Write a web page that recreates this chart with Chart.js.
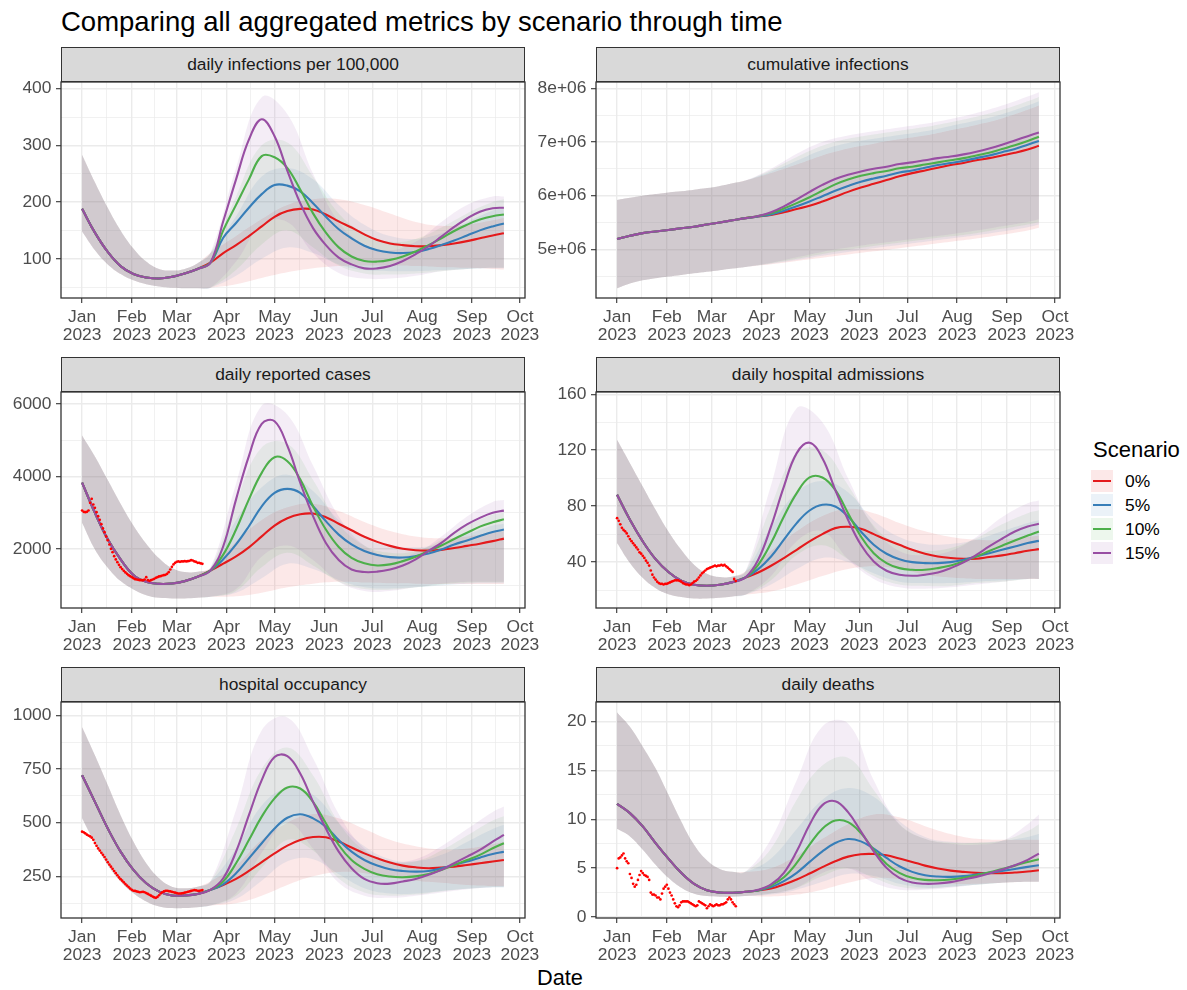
<!DOCTYPE html>
<html>
<head>
<meta charset="utf-8">
<title>Comparing all aggregated metrics by scenario through time</title>
<script src="https://cdn.jsdelivr.net/npm/chart.js"></script>
<style>
  html, body { margin: 0; padding: 0; background: #ffffff; }
  body { width: 1187px; height: 990px; position: relative; overflow: hidden;
         font-family: 'Liberation Sans', Arial, sans-serif; }
  .txt { position: absolute; white-space: nowrap; }
  .strip { position: absolute; box-sizing: border-box; background: #D9D9D9;
           border: 1.1px solid #333333; display: flex; align-items: center;
           justify-content: center; font-size: 17.4px; color: #1A1A1A; }
  canvas { position: absolute; }
  .key { position: absolute; width: 22px; height: 22px; }
  .key i { position: absolute; left: 2px; right: 2px; top: 10px; height: 2.2px; }
  .klab { position: absolute; font-size: 17.4px; color: #000; line-height: 22px; }
</style>
</head>
<body>
<div class="txt" style="left:61px;top:8px;font-size:27.5px;line-height:27.5px;color:#000;">Comparing all aggregated metrics by scenario through time</div>
<div class="txt" style="left:460px;width:200px;text-align:center;top:967px;font-size:21.75px;line-height:21.75px;color:#000;">Date</div>
<div class="txt" style="left:1093px;top:439px;font-size:22px;line-height:22px;color:#000;">Scenario</div>
<div id="legend"></div>

<script>
// ---- time axis (days since 1 Jan 2023) ----
const LINE_DAYS = [0,8,16,24,32,40,48,56,64,72,80,88,96,104,112,120,128,136,144,152,160,168,176,184,192,200,208,216,224,232,240,248,256,263];
const BAND_DAYS = [0,8,16,24,32,40,48,56,64,72,80,96,112,128,144,160,176,192,208,224,240,256,263];
const MONTH_DAYS = [0,31,59,90,120,151,181,212,243,273];
const MONTH_MINOR = [15.5,45,74.5,105,135.5,166,196.5,227.5,258];
const MONTH_LABELS = ['Jan','Feb','Mar','Apr','May','Jun','Jul','Aug','Sep','Oct'];
const YEAR_LABEL = '2023';

const SCENARIOS = ['0%','5%','10%','15%'];
const SCENARIO_RGB = [[228,26,28],[55,126,184],[77,175,74],[152,78,163]];

// ---- daily infections per 100,000 ----
const infMedShared = [188,146,112,87,73,67,65,68,74,82,93];
const infMed0  = [110,124,140,157,174,184,188,187,178,166,155,143,133,127,124,122,122,124,127,131,136,141,145];
const infMed5  = [137,163,190,214,230,229,219,198,174,152,136,123,115,111,110,112,117,124,132,141,150,157,162];
const infMed10 = [150,195,240,281,279,260,222,180,146,120,104,96,95,98,104,113,124,136,149,160,169,175,178];
const infMed15 = [166,240,310,346,316,255,198,154,124,102,90,83,83,87,96,108,122,139,156,171,183,189,190];
const infLoShared = [148,115,90,73,62,55,51,49,48,48,49];
const infHiShared = [283,235,190,150,118,95,82,79,82,92,110];
const infLo0  = [55,66,76,83,87,88,88,87,85,84,82,81];
const infHi0  = [140,170,195,205,205,195,180,165,158,160,168,172];
const infLo5  = [70,100,120,110,90,80,78,78,80,82,83,83];
const infHi5  = [175,245,260,240,195,160,140,135,145,165,185,190];
const infLo10 = [80,125,150,120,88,74,72,74,78,82,84,84];
const infHi10 = [210,300,305,245,180,145,130,135,155,180,200,205];
const infLo15 = [95,160,165,110,75,65,65,70,78,82,84,84];
const infHi15 = [260,385,355,250,165,125,115,130,165,195,210,210];

// ---- cumulative infections ----
const cumMedShared = [5.19e6,5.25e6,5.30e6,5.33e6,5.36e6,5.39e6,5.42e6,5.46e6,5.50e6,5.54e6,5.58e6];
const cumMed0  = [5.61e6,5.64e6,5.69e6,5.75e6,5.81e6,5.89e6,5.98e6,6.07e6,6.15e6,6.22e6,6.29e6,6.36e6,6.42e6,6.47e6,6.52e6,6.57e6,6.61e6,6.66e6,6.70e6,6.75e6,6.80e6,6.86e6,6.93e6];
const cumMed5  = [5.61e6,5.65e6,5.72e6,5.80e6,5.89e6,5.99e6,6.09e6,6.18e6,6.26e6,6.32e6,6.37e6,6.43e6,6.47e6,6.52e6,6.57e6,6.61e6,6.65e6,6.70e6,6.75e6,6.81e6,6.87e6,6.95e6,7.02e6];
const cumMed10 = [5.62e6,5.67e6,5.76e6,5.86e6,5.97e6,6.09e6,6.21e6,6.30e6,6.37e6,6.42e6,6.46e6,6.51e6,6.54e6,6.58e6,6.62e6,6.66e6,6.70e6,6.75e6,6.80e6,6.87e6,6.94e6,7.02e6,7.10e6];
const cumMed15 = [5.62e6,5.69e6,5.80e6,5.93e6,6.07e6,6.20e6,6.31e6,6.39e6,6.45e6,6.50e6,6.54e6,6.59e6,6.62e6,6.66e6,6.70e6,6.73e6,6.77e6,6.82e6,6.88e6,6.95e6,7.03e6,7.11e6,7.18e6];
const cumLoShared = [4.27e6,4.36e6,4.42e6,4.46e6,4.49e6,4.52e6,4.55e6,4.58e6,4.61e6,4.64e6,4.67e6];
const cumHiShared = [5.92e6,5.96e6,6.00e6,6.03e6,6.06e6,6.08e6,6.11e6,6.14e6,6.18e6,6.23e6,6.28e6];
const cumLo0  = [4.72e6,4.78e6,4.84e6,4.90e6,4.96e6,5.02e6,5.08e6,5.14e6,5.20e6,5.27e6,5.35e6,5.40e6];
const cumHi0  = [6.42e6,6.58e6,6.75e6,6.88e6,6.97e6,7.05e6,7.12e6,7.22e6,7.32e6,7.44e6,7.60e6,7.68e6];
const cumLo5  = [4.73e6,4.80e6,4.88e6,4.95e6,5.02e6,5.08e6,5.14e6,5.20e6,5.26e6,5.33e6,5.41e6,5.46e6];
const cumHi5  = [6.45e6,6.65e6,6.85e6,6.98e6,7.06e6,7.13e6,7.20e6,7.30e6,7.40e6,7.52e6,7.68e6,7.76e6];
const cumLo10 = [4.74e6,4.82e6,4.91e6,4.99e6,5.06e6,5.12e6,5.18e6,5.24e6,5.30e6,5.38e6,5.46e6,5.51e6];
const cumHi10 = [6.48e6,6.72e6,6.93e6,7.06e6,7.14e6,7.21e6,7.28e6,7.37e6,7.47e6,7.60e6,7.76e6,7.84e6];
const cumLo15 = [4.75e6,4.85e6,4.95e6,5.03e6,5.10e6,5.16e6,5.22e6,5.28e6,5.35e6,5.43e6,5.51e6,5.56e6];
const cumHi15 = [6.50e6,6.78e6,7.00e6,7.12e6,7.20e6,7.27e6,7.34e6,7.43e6,7.54e6,7.68e6,7.85e6,7.93e6];

// ---- daily reported cases ----
const casesMedShared = [3830,3000,2270,1720,1290,1100,1045,1055,1120,1240,1410];
const casesMed0  = [1600,1800,2050,2350,2650,2850,2960,2980,2880,2700,2520,2340,2200,2090,2010,1970,1960,1980,2030,2090,2150,2220,2290];
const casesMed5  = [1720,2130,2630,3180,3550,3660,3550,3180,2770,2400,2130,1950,1840,1780,1770,1810,1880,1990,2130,2240,2360,2470,2540];
const casesMed10 = [1850,2540,3370,4100,4530,4420,3920,3180,2540,2060,1760,1610,1550,1580,1670,1790,1950,2100,2280,2450,2620,2740,2820];
const casesMed15 = [2080,3370,4560,5450,5520,4840,3830,2910,2170,1700,1440,1370,1380,1440,1550,1720,1950,2170,2450,2680,2860,3000,3060];
const casesLoShared = [2725,1990,1490,1120,890,734,661,642,642,661,688];
const casesHiShared = [5130,4550,3900,3250,2650,2150,1750,1480,1370,1380,1480];
const casesLo0  = [700,800,950,1050,1100,1080,1060,1050,1040,1040,1040,1040];
const casesHi0  = [2200,2800,3150,3250,3050,2750,2500,2350,2300,2350,2450,2500];
const casesLo5  = [800,1200,1600,1450,1150,950,920,950,1000,1050,1060,1060];
const casesHi5  = [2800,3700,4050,3600,2800,2300,2100,2050,2150,2400,2650,2700];
const casesLo10 = [850,1500,1900,1550,1100,900,880,950,1030,1080,1090,1090];
const casesHi10 = [3300,4800,4900,3900,2700,2100,1900,1950,2250,2650,2950,3000];
const casesLo15 = [900,1800,2100,1700,1100,850,850,950,1050,1100,1100,1100];
const casesHi15 = [3800,5950,5700,4300,2900,2100,1800,1900,2350,2900,3300,3350];
const casesObserved = [3064,3028,3018,3028,3064,3275,3385,3229,3138,3018,2908,2807,2688,2569,2468,2349,2248,2128,2009,1917,
  1807,1716,1642,1569,1505,1450,1404,1358,1321,1284,1257,1229,1202,1174,1165,1156,1147,1147,1147,1165,
  1229,1147,1128,1147,1165,1183,1211,1229,1248,1257,1275,1284,1294,1321,1367,1440,1514,1578,1624,1651,
  1661,1651,1661,1661,1670,1661,1670,1679,1697,1688,1661,1651,1624,1624,1606,1596];

// ---- daily hospital admissions ----
const admMedShared = [88.1,70.2,54.8,42.1,32.9,26.7,23.8,23.1,23.8,25.7,29.0];
const admMed0  = [32.6,37.4,42.9,48.8,54.8,60.0,64.3,65.3,63.8,60.0,56.0,52.4,48.8,46.0,44.0,42.9,42.4,42.4,43.6,44.8,46.4,48.1,49.3];
const admMed5  = [35.0,44.0,56.0,67.9,76.9,81.0,79.8,72.6,61.9,52.4,46.0,42.1,40.0,39.3,39.3,40.0,41.7,44.0,46.4,48.8,51.2,53.6,55.2];
const admMed10 = [38.1,53.6,72.6,89.3,100.5,100.5,91.7,75.0,58.3,46.4,39.3,35.7,34.5,34.5,35.7,37.6,40.5,44.0,47.9,51.7,55.5,59.0,61.9];
const admMed15 = [41.7,65.5,94.0,117.9,125.3,114.3,91.7,70.2,52.4,40.5,33.8,31.0,30.2,31.0,32.6,35.7,39.8,45.2,51.2,56.7,61.9,65.5,67.4];
const admLoShared = [53.6,39.3,28.6,21.4,17.1,15.0,14.0,14.0,14.5,15.5,16.7];
const admHiShared = [127.4,110.7,94.0,77.4,61.9,48.8,38.1,31.7,29.3,29.8,33.3];
const admLo0  = [19,24,30,35,37,35,31,29,28,28,28,28];
const admHi0  = [48,62,73,78,75,68,62,58,56,56,58,59];
const admLo5  = [24,35,43,40,32,26,25,25,26,27,28,28];
const admHi5  = [65,90,98,90,70,58,53,53,56,62,68,70];
const admLo10 = [27,45,52,42,30,24,23,23,25,26,28,28];
const admHi10 = [80,118,120,95,66,52,48,50,57,67,75,77];
const admLo15 = [30,55,62,42,28,22,21,22,24,26,28,28];
const admHi15 = [95,150,140,100,65,48,45,48,58,72,82,84];
const admObserved = [71.4,69.5,67,64.5,63,62,60.5,58.5,56.5,55,53.5,52,50.5,49,47,46,44.5,43,41,39.5,
  37.5,34,31,29,27.5,26,25,24.5,24.5,24,24.5,24.5,25,25.5,26,26.5,27,27,27,26.5,
  26,25,24.5,24,24,23.5,24,25,26,26.5,27.5,29,30.5,32,33,34,35,35.5,36,36.5,
  37,37.5,37,37.5,37.5,38,37.5,38,37,36,35,34,33,28,26.5];

// ---- hospital occupancy ----
const occMedShared = [721,597,473,365,280,218,179,161,161,168,187];
const occMed0  = [210,238,275,316,357,393,419,433,432,412,384,357,334,314,300,292,288,291,295,303,311,319,326];
const occMed5  = [213,264,334,404,473,523,539,520,481,419,365,326,300,283,275,272,275,288,303,319,337,354,365];
const occMed10 = [226,311,419,528,613,664,659,597,497,396,326,285,260,249,246,250,261,280,303,326,350,381,404];
const occMed15 = [241,365,535,698,806,810,729,597,473,365,288,238,218,216,226,238,257,280,311,342,373,412,443];
const occLoShared = [520,404,303,226,171,133,110,102,102,106,114];
const occHiShared = [946,814,675,535,412,311,241,202,195,202,226];
const occLo0  = [125,160,210,250,270,265,245,230,220,210,205,205];
const occHi0  = [300,420,500,540,520,470,420,390,375,380,400,410];
const occLo5  = [145,230,320,330,260,195,170,170,182,192,198,198];
const occHi5  = [380,580,660,630,500,390,330,320,350,410,470,490];
const occLo10 = [160,290,420,370,240,175,160,165,180,192,200,200];
const occHi10 = [470,750,850,720,500,370,320,320,370,440,510,530];
const occLo15 = [170,360,500,380,220,160,150,160,175,190,200,200];
const occHi15 = [560,930,990,800,540,380,320,330,390,470,550,575];
const occObserved = [458,455,450,444,440,436,430,420,405,392,380,370,360,350,340,328,316,305,295,285,
  275,265,255,245,237,230,222,214,207,200,193,187,183,182,180,178,176,177,178,176,
  172,168,164,160,156,152,150,154,162,170,176,180,182,183,181,180,178,176,174,172,
  170,170,171,172,174,176,178,180,182,184,186,185,183,182,184,186];

// ---- daily deaths ----
const dthMedShared = [11.58,10.63,9.27,7.57,5.98,4.52,3.40,2.75,2.51,2.48,2.58];
const dthMed0  = [2.72,2.92,3.33,3.84,4.45,5.10,5.70,6.18,6.42,6.45,6.32,5.98,5.64,5.26,4.96,4.75,4.62,4.52,4.48,4.48,4.55,4.65,4.79];
const dthMed5  = [2.72,3.06,3.67,4.52,5.64,6.72,7.57,7.98,7.74,7.00,6.04,5.19,4.62,4.28,4.14,4.11,4.18,4.35,4.52,4.72,4.92,5.13,5.30];
const dthMed10 = [2.75,3.23,4.07,5.53,7.40,9.03,9.87,9.71,8.59,6.89,5.43,4.52,4.01,3.80,3.77,3.84,4.01,4.28,4.58,4.92,5.26,5.64,5.91];
const dthMed15 = [2.78,3.33,4.52,6.72,9.44,11.45,11.85,10.73,8.76,6.72,5.03,4.01,3.53,3.40,3.43,3.57,3.84,4.11,4.45,4.86,5.30,5.85,6.49];
const dthLoShared = [9.03,8.25,6.89,5.36,4.01,2.99,2.38,2.14,2.07,2.07,2.14];
const dthHiShared = [20.92,19.46,17.42,15.21,12.5,9.78,7.40,5.81,4.92,4.62,4.62];
const dthLo0  = [2.1,2.3,2.8,3.5,4.0,3.9,3.6,3.4,3.4,3.5,3.6,3.6];
const dthHi0  = [5,6.3,8,9.5,10.5,10.2,9.3,8.5,8,7.9,7.9,7.9];
const dthLo5  = [2.3,2.8,3.6,4.4,4.2,3.4,3.0,3.1,3.3,3.5,3.6,3.6];
const dthHi5  = [6,9,12,13.2,12.3,9.8,8.2,7.7,7.6,7.8,8.2,8.5];
const dthLo10 = [2.4,3,4.2,5,4,3.1,2.9,3.1,3.3,3.5,3.6,3.6];
const dthHi10 = [7,12,15.5,16.3,13,9.5,8,7.6,7.6,7.8,8.8,9.5];
const dthLo15 = [2.4,3,4.5,5,3.5,2.8,2.8,3,3.3,3.5,3.6,3.6];
const dthHi15 = [8,14,19.5,19.8,14,9.5,8,7.5,7.4,7.8,9.5,10.5];
const dthObserved = [5.0,6.0,6.1,6.3,6.5,6.0,5.7,5.5,4.4,4.0,3.4,3.1,3.3,3.8,4.3,4.7,4.5,4.3,4.2,4.1,
  3.8,2.5,2.3,2.3,2.2,2.0,2.0,1.8,2.4,2.9,3.1,3.3,2.9,2.5,2.2,1.8,1.4,1.1,1.0,1.2,
  1.5,1.6,1.6,1.6,1.6,1.5,1.4,1.3,1.2,1.1,1.2,1.6,1.5,1.4,1.3,1.2,0.9,1.1,1.3,1.2,
  1.1,1.2,1.3,1.2,1.2,1.3,1.3,1.4,1.5,1.8,2.0,1.8,1.5,1.3,1.1];

// ---- y axis breaks per facet ----
const infTicks = [100,200,300,400],   infMinor = [50,150,250,350];
const cumTicks = [5e6,6e6,7e6,8e6],   cumMinor = [4.5e6,5.5e6,6.5e6,7.5e6];
const casesTicks = [2000,4000,6000],  casesMinor = [1000,3000,5000];
const admTicks = [40,80,120,160],     admMinor = [20,60,100,140];
const occTicks = [250,500,750,1000],  occMinor = [125,375,625,875];
const dthTicks = [0,5,10,15,20],      dthMinor = [2.5,7.5,12.5,17.5];

// ---- facet definitions ----
const FACETS = [
  { title: 'daily infections per 100,000', medShared: infMedShared, med: [infMed0, infMed5, infMed10, infMed15],
    loShared: infLoShared, hiShared: infHiShared, lo: [infLo0, infLo5, infLo10, infLo15], hi: [infHi0, infHi5, infHi10, infHi15],
    obs: null, yMin: 30.7, yMax: 411.8, ticks: infTicks, minor: infMinor, fmt: v => String(v) },
  { title: 'cumulative infections', medShared: cumMedShared, med: [cumMed0, cumMed5, cumMed10, cumMed15],
    loShared: cumLoShared, hiShared: cumHiShared, lo: [cumLo0, cumLo5, cumLo10, cumLo15], hi: [cumHi0, cumHi5, cumHi10, cumHi15],
    obs: null, yMin: 4.09e6, yMax: 8.12e6, ticks: cumTicks, minor: cumMinor,
    fmt: v => v.toExponential(0).replace(/e([+-])(\d)$/, 'e$10$2') },
  { title: 'daily reported cases', medShared: casesMedShared, med: [casesMed0, casesMed5, casesMed10, casesMed15],
    loShared: casesLoShared, hiShared: casesHiShared, lo: [casesLo0, casesLo5, casesLo10, casesLo15], hi: [casesHi0, casesHi5, casesHi10, casesHi15],
    obs: casesObserved, yMin: 380, yMax: 6325, ticks: casesTicks, minor: casesMinor, fmt: v => String(v) },
  { title: 'daily hospital admissions', medShared: admMedShared, med: [admMed0, admMed5, admMed10, admMed15],
    loShared: admLoShared, hiShared: admHiShared, lo: [admLo0, admLo5, admLo10, admLo15], hi: [admHi0, admHi5, admHi10, admHi15],
    obs: admObserved, yMin: 7.2, yMax: 161.6, ticks: admTicks, minor: admMinor, fmt: v => String(v) },
  { title: 'hospital occupancy', medShared: occMedShared, med: [occMed0, occMed5, occMed10, occMed15],
    loShared: occLoShared, hiShared: occHiShared, lo: [occLo0, occLo5, occLo10, occLo15], hi: [occHi0, occHi5, occHi10, occHi15],
    obs: occObserved, yMin: 56, yMax: 1062, ticks: occTicks, minor: occMinor, fmt: v => String(v) },
  { title: 'daily deaths', medShared: dthMedShared, med: [dthMed0, dthMed5, dthMed10, dthMed15],
    loShared: dthLoShared, hiShared: dthHiShared, lo: [dthLo0, dthLo5, dthLo10, dthLo15], hi: [dthHi0, dthHi5, dthHi10, dthHi15],
    obs: dthObserved, yMin: -0.1, yMax: 22.0, ticks: dthTicks, minor: dthMinor, fmt: v => String(v) }
];

// ---- page layout ----
const LAYOUT = {
  colLeft: [61, 596], rowTop: [82, 392, 702],
  panelW: 464, panelH: 216, stripH: 35,
  yAxisW: 61, padT: 16, padR: 24, xAxisH: 52,
  xMin: -13.15, xMax: 276.15
};
const TICK_FONT = { family: "'Liberation Sans', Arial, sans-serif", size: 17.4 };

Chart.defaults.font.family = "'Liberation Sans', Arial, sans-serif";
Chart.defaults.animation = false;

const rgba = (c, a) => `rgba(${c[0]},${c[1]},${c[2]},${a})`;
const toPoints = (days, vals) => vals.map((v, i) => ({ x: days[i], y: v }));

// ggplot-style panel outline drawn over everything inside the panel
const panelBorder = {
  id: 'panelBorder',
  afterDraw(chart) {
    const { ctx, chartArea: a } = chart;
    ctx.save();
    ctx.strokeStyle = '#333333';
    ctx.lineWidth = 1.3;
    ctx.strokeRect(a.left, a.top, a.right - a.left, a.bottom - a.top);
    ctx.restore();
  }
};

function gridOptions(isMajor) {
  return {
    color: '#EBEBEB',
    lineWidth: c => (c.tick && isMajor(c.tick.value)) ? 1.4 : 0.7,
    drawTicks: true,
    tickLength: 5,
    tickWidth: 1.1,
    tickColor: c => (c.tick && isMajor(c.tick.value)) ? '#333333' : 'rgba(0,0,0,0)'
  };
}

function buildFacet(f, idx) {
  const col = idx % 2, row = Math.floor(idx / 2);
  const left = LAYOUT.colLeft[col], top = LAYOUT.rowTop[row];

  const strip = document.createElement('div');
  strip.className = 'strip';
  Object.assign(strip.style, {
    left: left + 'px', top: (top - LAYOUT.stripH) + 'px',
    width: LAYOUT.panelW + 'px', height: LAYOUT.stripH + 'px'
  });
  strip.textContent = f.title;
  document.body.appendChild(strip);

  const W = LAYOUT.yAxisW + LAYOUT.panelW + LAYOUT.padR;
  const H = LAYOUT.padT + LAYOUT.panelH + LAYOUT.xAxisH;
  const cv = document.createElement('canvas');
  cv.width = W; cv.height = H;
  Object.assign(cv.style, {
    left: (left - LAYOUT.yAxisW) + 'px', top: (top - LAYOUT.padT) + 'px',
    width: W + 'px', height: H + 'px'
  });
  document.body.appendChild(cv);

  const datasets = [];
  // observed series on top
  if (f.obs) {
    datasets.push({
      data: f.obs.map((v, i) => ({ x: i, y: v })),
      showLine: false, pointRadius: 1.35, pointBorderWidth: 0,
      pointBackgroundColor: '#FF0000', borderColor: '#FF0000', backgroundColor: '#FF0000'
    });
  }
  // scenario medians, 15% drawn last-on-top
  for (let s = SCENARIOS.length - 1; s >= 0; s--) {
    datasets.push({
      data: toPoints(LINE_DAYS, f.medShared.concat(f.med[s])),
      borderColor: rgba(SCENARIO_RGB[s], 1), borderWidth: 2.1,
      pointRadius: 0, fill: false, tension: 0.4
    });
  }
  // scenario ribbons (upper fills down to the following lower bound)
  for (let s = SCENARIOS.length - 1; s >= 0; s--) {
    datasets.push({
      data: toPoints(BAND_DAYS, f.hiShared.concat(f.hi[s])),
      borderColor: 'rgba(0,0,0,0)', borderWidth: 0, pointRadius: 0,
      backgroundColor: rgba(SCENARIO_RGB[s], 0.1), fill: '+1', tension: 0.4
    });
    datasets.push({
      data: toPoints(BAND_DAYS, f.loShared.concat(f.lo[s])),
      borderColor: 'rgba(0,0,0,0)', borderWidth: 0, pointRadius: 0,
      fill: false, tension: 0.4
    });
  }

  const xMajor = v => MONTH_DAYS.indexOf(v) >= 0;
  const yMajor = v => f.ticks.indexOf(v) >= 0;

  new Chart(cv, {
    type: 'line',
    data: { datasets },
    plugins: [panelBorder],
    options: {
      responsive: false, devicePixelRatio: 1, animation: false, events: [],
      layout: { padding: { left: 0, top: LAYOUT.padT, right: LAYOUT.padR, bottom: 0 } },
      plugins: { legend: { display: false }, tooltip: { enabled: false }, title: { display: false },
                 filler: { drawTime: 'beforeDatasetsDraw' } },
      scales: {
        x: {
          type: 'linear', position: 'bottom', bounds: 'data',
          min: LAYOUT.xMin, max: LAYOUT.xMax,
          afterFit: s => { s.height = LAYOUT.xAxisH; },
          afterBuildTicks: s => {
            s.ticks = MONTH_DAYS.concat(MONTH_MINOR).sort((a, b) => a - b).map(v => ({ value: v }));
          },
          ticks: {
            autoSkip: false, maxRotation: 0, minRotation: 0, padding: 4.4,
            color: '#4D4D4D', font: Object.assign({ lineHeight: 1.08 }, TICK_FONT),
            callback: v => {
              const i = MONTH_DAYS.indexOf(v);
              return i < 0 ? '' : [MONTH_LABELS[i], YEAR_LABEL];
            }
          },
          grid: gridOptions(xMajor),
          border: { display: false }
        },
        y: {
          type: 'linear', position: 'left', bounds: 'data',
          min: f.yMin, max: f.yMax,
          afterFit: s => { s.width = LAYOUT.yAxisW; },
          afterBuildTicks: s => {
            s.ticks = f.ticks.concat(f.minor).sort((a, b) => a - b).map(v => ({ value: v }));
          },
          ticks: {
            autoSkip: false, padding: 4.6, color: '#4D4D4D', font: TICK_FONT,
            callback: v => yMajor(v) ? f.fmt(v) : ''
          },
          grid: gridOptions(yMajor),
          border: { display: false }
        }
      }
    }
  });
}

FACETS.forEach(buildFacet);

// ---- legend ----
const LEGEND = { keyLeft: 1091, firstTop: 469.5, step: 24.2, labelLeft: 1125 };
const legendBox = document.getElementById('legend');
SCENARIOS.forEach((name, s) => {
  const top = LEGEND.firstTop + s * LEGEND.step;
  const key = document.createElement('div');
  key.className = 'key';
  key.style.left = LEGEND.keyLeft + 'px';
  key.style.top = top + 'px';
  key.style.background = rgba(SCENARIO_RGB[s], 0.1);
  const line = document.createElement('i');
  line.style.background = rgba(SCENARIO_RGB[s], 1);
  key.appendChild(line);
  legendBox.appendChild(key);
  const lab = document.createElement('div');
  lab.className = 'klab';
  lab.style.left = LEGEND.labelLeft + 'px';
  lab.style.top = top + 'px';
  lab.textContent = name;
  legendBox.appendChild(lab);
});
</script>
</body>
</html>
